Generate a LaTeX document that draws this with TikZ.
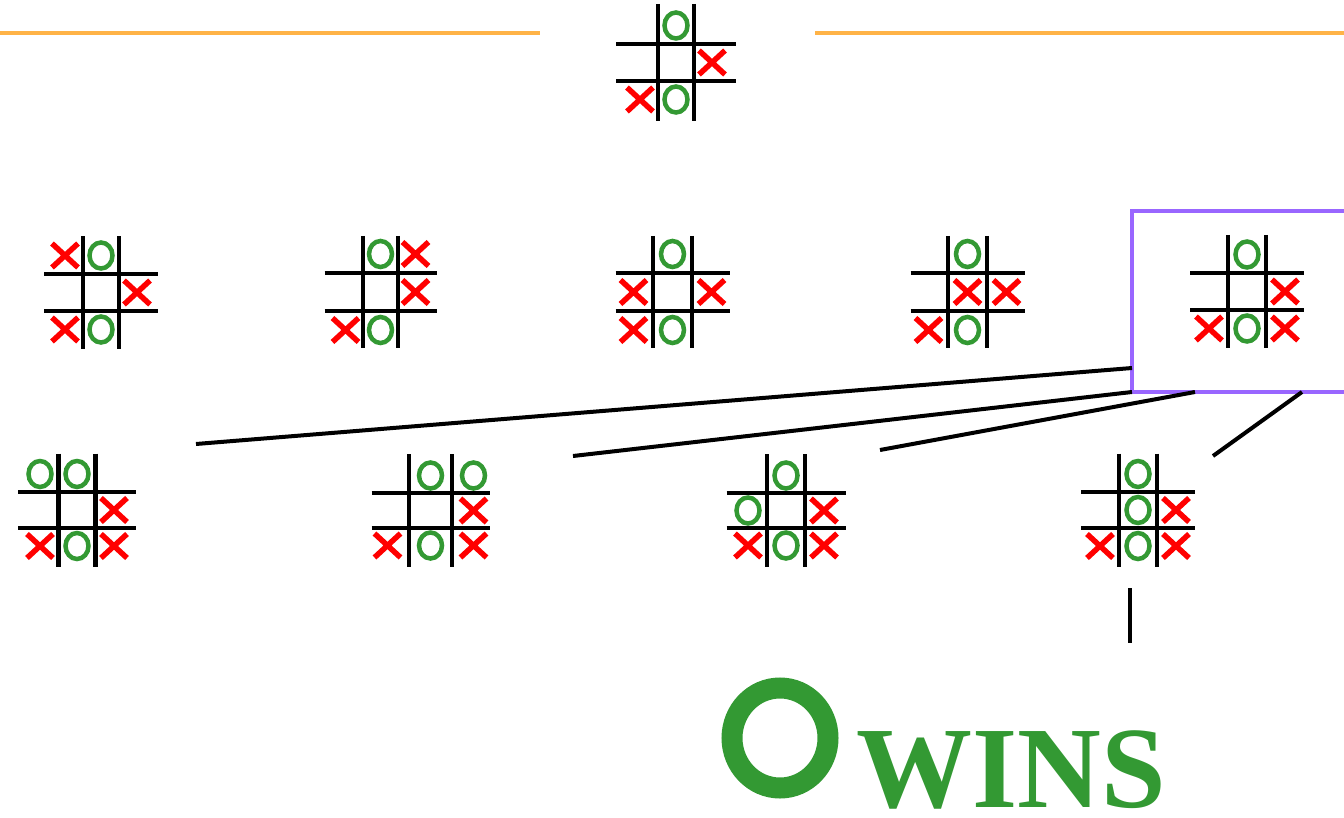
\documentclass[tikz,border=0pt]{standalone}
\usepackage{fontspec}
\newfontfamily\winsfont{Liberation Serif}
\usetikzlibrary{calc}
\definecolor{tgreen}{HTML}{339933}
\definecolor{tred}{HTML}{FF0000}
\definecolor{tpurple}{HTML}{9966FF}
\definecolor{torange}{HTML}{FFB347}
\tikzset{
  gridline/.style={line width=4.5pt, black},
  boardbox/.style={rectangle, inner sep=0pt, outer sep=0pt},
  xstroke/.style={line width=5.5pt, tred},
  ostroke/.style={line width=4.5pt, tgreen},
  xm/.pic={\draw[xstroke] (-13,-12)--(13,12) (-13,12)--(13,-12);},
  om/.pic={\draw[ostroke] (0,0) ellipse [x radius=11.5, y radius=13];},
  link/.style={line width=4pt, black},
  rule/.style={line width=4pt, torange},
  selbox/.style={rectangle, draw=tpurple, line width=3.5pt, inner sep=0pt, outer sep=0pt, anchor=north west},
}
% name, cx, cy, half gap x, half gap y, half extent x, half extent y
\newcommand\tttgrid[7]{%
  \node[boardbox, minimum width=2*#6, minimum height=2*#7] (#1) at (#2,#3) {};
  \draw[gridline] ({#2-#4},{#3-#7}) -- ({#2-#4},{#3+#7})
                  ({#2+#4},{#3-#7}) -- ({#2+#4},{#3+#7})
                  ({#2-#6},{#3-#5}) -- ({#2+#6},{#3-#5})
                  ({#2-#6},{#3+#5}) -- ({#2+#6},{#3+#5});
  \gdef\bx{#2}\gdef\by{#3}\gdef\gx{#4}\gdef\gy{#5}%
}
\newcommand\mk[3]{\pic at ({\bx+2*#2*\gx},{\by+2*#3*\gy}) {#1};}
\begin{document}
\begin{tikzpicture}[x=1pt,y=-1pt]
\clip (0,0) rectangle (1344,818);
\useasboundingbox (0,0) rectangle (1344,818);

% top rules
\draw[rule] (0,33) -- (540,33);
\draw[rule] (815,33) -- (1344,33);

% top board
\tttgrid{b0}{676}{62.5}{18}{18.5}{60}{58.5}
\mk{om}{0}{-1}\mk{xm}{1}{0}\mk{xm}{-1}{1}\mk{om}{0}{1}

% row 1
\tttgrid{b1}{101}{292.5}{18}{18.5}{57}{56}
\mk{xm}{-1}{-1}\mk{om}{0}{-1}\mk{xm}{1}{0}\mk{xm}{-1}{1}\mk{om}{0}{1}

\tttgrid{b2}{380.5}{292}{17.5}{19}{56}{56}
\mk{om}{0}{-1}\mk{xm}{1}{-1}\mk{xm}{1}{0}\mk{xm}{-1}{1}\mk{om}{0}{1}

\tttgrid{b3}{672.5}{292}{19.5}{19}{57}{56}
\mk{om}{0}{-1}\mk{xm}{-1}{0}\mk{xm}{1}{0}\mk{xm}{-1}{1}\mk{om}{0}{1}

\tttgrid{b4}{967.5}{292}{19.5}{19}{57}{56}
\mk{om}{0}{-1}\mk{xm}{0}{0}\mk{xm}{1}{0}\mk{xm}{-1}{1}\mk{om}{0}{1}

\node[selbox, minimum width=240, minimum height=181] (sel) at (1132,211) {};
\tttgrid{b5}{1247}{291.5}{19}{18.5}{57}{56.5}
\mk{om}{0}{-1}\mk{xm}{1}{0}\mk{xm}{-1}{1}\mk{om}{0}{1}\mk{xm}{1}{1}

% row 2
\tttgrid{b6}{77}{510}{18.5}{18}{59}{56.5}
\mk{om}{-1}{-1}\mk{om}{0}{-1}\mk{xm}{1}{0}\mk{xm}{-1}{1}\mk{om}{0}{1}\mk{xm}{1}{1}

\tttgrid{b7}{430.5}{510.5}{21.5}{17.5}{59}{56.5}
\mk{om}{0}{-1}\mk{om}{1}{-1}\mk{xm}{1}{0}\mk{xm}{-1}{1}\mk{om}{0}{1}\mk{xm}{1}{1}

\tttgrid{b8}{786}{510.5}{19}{17.5}{59.5}{56.5}
\mk{om}{0}{-1}\mk{om}{-1}{0}\mk{xm}{1}{0}\mk{xm}{-1}{1}\mk{om}{0}{1}\mk{xm}{1}{1}

\tttgrid{b9}{1138}{510}{19}{18}{57}{56.5}
\mk{om}{0}{-1}\mk{om}{0}{0}\mk{xm}{1}{0}\mk{xm}{-1}{1}\mk{om}{0}{1}\mk{xm}{1}{1}

% connectors
\coordinate (s1) at (1132,368);
\coordinate (s2) at (1132,392);
\coordinate (s3) at (1195,392);
\coordinate (s4) at (1302,392);
\coordinate (e1) at (196,444);
\coordinate (e2) at (573,456);
\coordinate (e3) at (880,450);
\coordinate (e4) at (1213,456);
\draw[link] (s1) -- (e1);
\draw[link] (s2) -- (e2);
\draw[link] (s3) -- (e3);
\draw[link] (s4) -- (e4);

% result
\coordinate (r1) at (1130,588);
\coordinate (r2) at (1130,643);
\draw[link] (r1) -- (r2);
\draw[line width=21pt, tgreen] (780,738) ellipse [x radius=48, y radius=50];
\node[anchor=base west, inner sep=0pt, text depth=0pt, text=tgreen, font=\winsfont\bfseries\fontsize{116}{120}\selectfont] (wins) at (856,807) {WINS};
\end{tikzpicture}
\end{document}
